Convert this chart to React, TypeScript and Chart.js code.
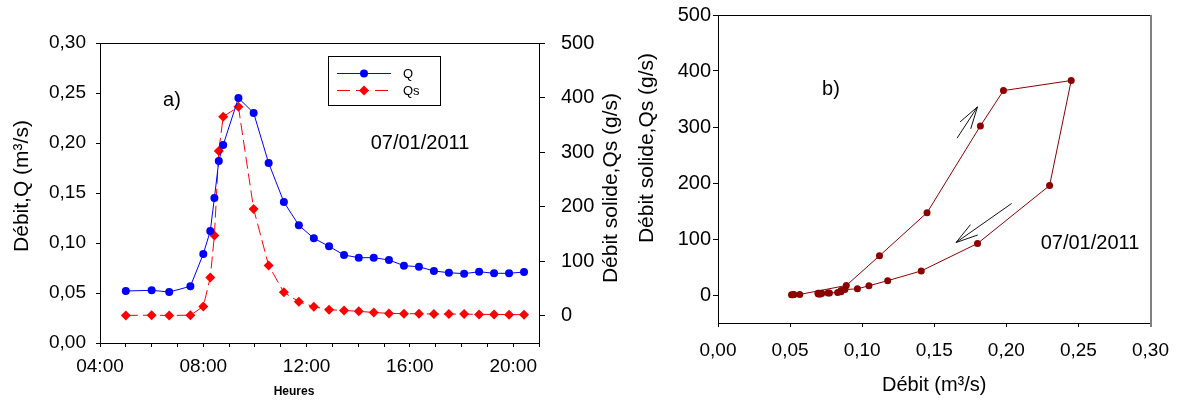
import React, { useEffect, useRef } from 'react';
import { Chart, registerables } from 'chart.js';

Chart.register(...registerables);

const FONT = '"Liberation Sans", Arial, Helvetica, sans-serif';

// Sampling times (decimal hours) on 07/01/2011
const hours = [5.0, 6.0, 6.68, 7.5, 8.0, 8.27, 8.43, 8.6, 8.77, 9.36, 9.95, 10.53, 11.12, 11.7, 12.28, 12.87, 13.45, 14.02, 14.6, 15.19, 15.77, 16.35, 16.93, 17.51, 18.1, 18.68, 19.26, 19.84, 20.42];
// Liquid discharge Q (m3/s)
const debitQ = [0.052, 0.0527, 0.051, 0.0567, 0.089, 0.112, 0.145, 0.182, 0.198, 0.245, 0.23, 0.18, 0.141, 0.1177, 0.1047, 0.0967, 0.088, 0.0853, 0.0853, 0.083, 0.0773, 0.0763, 0.072, 0.0703, 0.0693, 0.0713, 0.0697, 0.0697, 0.071];
// Solid discharge Qs (g/s)
const debitQs = [0.5, 1, 0.5, 1, 17, 70, 147, 302, 365, 383, 195.5, 92, 43, 25.6, 16.5, 11, 9.7, 8, 6, 4.3, 3.7, 3.7, 3, 3, 3, 2.4, 2.4, 2, 2];

const seriesLabels = ['Q', 'Qs'];
const dateLabel = '07/01/2011';

const fmt2 = (v: number) => Number(v).toFixed(2).replace('.', ',');
const fmtHour = (v: number) => {
  const h = Math.round(Number(v));
  return h % 4 === 0 ? String(h).padStart(2, '0') + ':00' : '';
};

const BLUE = '#0000FF';
const RED = '#FF0000';
const DARKRED = '#8B0000';

function drawText(ctx: CanvasRenderingContext2D, text: string, x: number, y: number, size: number, opts: { bold?: boolean; rotate?: boolean; align?: CanvasTextAlign } = {}) {
  ctx.save();
  ctx.fillStyle = '#000';
  ctx.font = `${opts.bold ? 'bold ' : ''}${size}px ${FONT}`;
  ctx.textAlign = opts.align || 'center';
  ctx.textBaseline = 'middle';
  ctx.translate(x, y);
  if (opts.rotate) ctx.rotate(-Math.PI / 2);
  ctx.fillText(text, 0, 0);
  ctx.restore();
}

function drawArrow(ctx: CanvasRenderingContext2D, x0: number, y0: number, x1: number, y1: number) {
  const len = 23;
  const ang = (16 * Math.PI) / 180;
  const a = Math.atan2(y0 - y1, x0 - x1);
  ctx.save();
  ctx.strokeStyle = '#111';
  ctx.lineWidth = 1;
  ctx.beginPath();
  ctx.moveTo(x0, y0);
  ctx.lineTo(x1, y1);
  for (const s of [-1, 1]) {
    ctx.moveTo(x1, y1);
    ctx.lineTo(x1 + len * Math.cos(a + s * ang), y1 + len * Math.sin(a + s * ang));
  }
  ctx.stroke();
  ctx.restore();
}

const panelAPlugin = {
  id: 'panelA',
  afterDraw(chart: any) {
    const { ctx, chartArea: ca } = chart;
    ctx.save();
    // top frame line
    ctx.strokeStyle = '#000';
    ctx.lineWidth = 1;
    ctx.beginPath();
    ctx.moveTo(ca.left, Math.round(ca.top) + 0.5);
    ctx.lineTo(ca.right, Math.round(ca.top) + 0.5);
    ctx.stroke();

    // legend box
    ctx.strokeRect(328.5, 56.5, 112, 49);
    // Q row
    ctx.strokeStyle = BLUE;
    ctx.beginPath();
    ctx.moveTo(337, 73.5);
    ctx.lineTo(391, 73.5);
    ctx.stroke();
    ctx.fillStyle = BLUE;
    ctx.beginPath();
    ctx.arc(364, 73.5, 4, 0, Math.PI * 2);
    ctx.fill();
    // Qs row
    ctx.strokeStyle = RED;
    ctx.setLineDash([13, 6]);
    ctx.beginPath();
    ctx.moveTo(337, 90.5);
    ctx.lineTo(390, 90.5);
    ctx.stroke();
    ctx.setLineDash([]);
    ctx.fillStyle = RED;
    ctx.beginPath();
    ctx.moveTo(364 - 5, 90.5);
    ctx.lineTo(364, 85.5);
    ctx.lineTo(364 + 5, 90.5);
    ctx.lineTo(364, 95.5);
    ctx.closePath();
    ctx.fill();
    ctx.restore();

    drawText(ctx, seriesLabels[0], 403, 74, 13, { align: 'left' });
    drawText(ctx, seriesLabels[1], 403, 91, 13, { align: 'left' });

    drawText(ctx, 'a)', 172, 100, 20);
    drawText(ctx, dateLabel, 420, 143, 20);
    drawText(ctx, 'Heures', 294, 392, 12, { bold: true });
    drawText(ctx, 'Débit,Q (m³/s)', 22, 186, 21, { rotate: true });
    drawText(ctx, 'Débit solide,Qs (g/s)', 611, 188, 21, { rotate: true });
  },
};

const panelBPlugin = {
  id: 'panelB',
  afterDraw(chart: any) {
    const { ctx, chartArea: ca, scales } = chart;
    ctx.save();
    ctx.strokeStyle = '#000';
    ctx.lineWidth = 1;
    ctx.beginPath();
    ctx.moveTo(ca.left, Math.round(ca.top) + 0.5);
    ctx.lineTo(ca.right, Math.round(ca.top) + 0.5);
    ctx.stroke();
    ctx.strokeStyle = '#808080';
    ctx.lineWidth = 2;
    ctx.beginPath();
    ctx.moveTo(Math.round(ca.right), ca.top);
    ctx.lineTo(Math.round(ca.right), ca.bottom + 4);
    ctx.stroke();
    ctx.restore();

    const x = scales.x;
    const y = scales.y;
    // rising-limb arrow and falling-limb arrow (data coordinates)
    drawArrow(ctx, x.getPixelForValue(0.1658), y.getPixelForValue(280), x.getPixelForValue(0.18), y.getPixelForValue(336));
    drawArrow(ctx, x.getPixelForValue(0.2037), y.getPixelForValue(163.5), x.getPixelForValue(0.1651), y.getPixelForValue(93.7));

    drawText(ctx, 'b)', 206, 89, 20);
    drawText(ctx, dateLabel, 465, 243, 20);
    drawText(ctx, 'Débit solide,Qs (g/s)', 22, 148, 21, { rotate: true });
  },
};

const tickFont = { family: FONT, size: 19 };
const intTickFont = { family: FONT, size: 20 };

export default function App() {
  const refA = useRef<HTMLCanvasElement | null>(null);
  const refB = useRef<HTMLCanvasElement | null>(null);

  useEffect(() => {
    const chartA = new Chart(refA.current as HTMLCanvasElement, {
      type: 'line',
      data: {
        datasets: [
          {
            label: seriesLabels[0],
            data: hours.map((h, i) => ({ x: h, y: debitQ[i] })),
            yAxisID: 'y',
            borderColor: BLUE,
            backgroundColor: BLUE,
            borderWidth: 1,
            pointRadius: 4,
            pointHoverRadius: 4,
            pointBorderWidth: 0,
            pointBackgroundColor: BLUE,
            tension: 0,
          },
          {
            label: seriesLabels[1],
            data: hours.map((h, i) => ({ x: h, y: debitQs[i] })),
            yAxisID: 'y1',
            borderColor: RED,
            backgroundColor: RED,
            borderDash: [12, 5],
            borderWidth: 1,
            pointStyle: 'rectRot',
            pointRadius: 5,
            pointHoverRadius: 5,
            pointBorderWidth: 0,
            pointBackgroundColor: RED,
            tension: 0,
          },
        ],
      } as any,
      options: {
        responsive: false,
        animation: false,
        events: [],
        layout: { padding: { top: 43, left: 0, right: 0, bottom: 0 } },
        plugins: { legend: { display: false }, tooltip: { enabled: false } },
        scales: {
          x: {
            type: 'linear',
            min: 4,
            max: 21,
            afterFit: (s: any) => { s.height = 57; },
            ticks: { stepSize: 1, autoSkip: false, maxRotation: 0, callback: (v: any) => fmtHour(v), color: '#000', font: tickFont, padding: 8 },
            grid: { drawOnChartArea: false, tickLength: 4, tickColor: '#000' },
            border: { color: '#000' },
          },
          y: {
            position: 'left',
            min: 0,
            max: 0.3,
            afterFit: (s: any) => { s.width = 100; },
            ticks: { stepSize: 0.05, callback: (v: any) => fmt2(v), color: '#000', font: tickFont, padding: 10 },
            grid: { drawOnChartArea: false, tickLength: 4, tickColor: '#000' },
            border: { color: '#000' },
          },
          y1: {
            position: 'right',
            min: -50,
            max: 500,
            afterBuildTicks: (s: any) => { s.ticks = s.ticks.filter((t: any) => t.value >= 0); },
            afterFit: (s: any) => { s.width = 86; },
            ticks: { stepSize: 100, color: '#000', font: intTickFont, padding: 16 },
            grid: { drawOnChartArea: false, tickLength: 6, tickColor: '#000' },
            border: { color: '#000' },
          },
        },
      } as any,
      plugins: [panelAPlugin],
    });

    const chartB = new Chart(refB.current as HTMLCanvasElement, {
      type: 'scatter',
      data: {
        datasets: [
          {
            label: 'Qs = f(Q)',
            data: debitQ.map((q, i) => ({ x: q, y: debitQs[i] })),
            showLine: true,
            borderColor: DARKRED,
            backgroundColor: DARKRED,
            pointBackgroundColor: DARKRED,
            borderWidth: 1,
            pointRadius: 3.5,
            pointHoverRadius: 3.5,
            pointBorderWidth: 0,
            tension: 0,
          },
        ],
      } as any,
      options: {
        responsive: false,
        animation: false,
        events: [],
        layout: { padding: { top: 15, right: 26, left: 0, bottom: 0 } },
        plugins: { legend: { display: false }, tooltip: { enabled: false } },
        scales: {
          x: {
            type: 'linear',
            min: 0,
            max: 0.3,
            afterFit: (s: any) => { s.height = 77; },
            ticks: { stepSize: 0.05, callback: (v: any) => fmt2(v), color: '#000', font: tickFont, padding: 12, maxRotation: 0, autoSkip: false },
            grid: { drawOnChartArea: false, tickLength: 4, tickColor: '#000' },
            border: { color: '#000' },
            title: { display: true, text: 'Débit (m³/s)', color: '#000', font: { family: FONT, size: 20 }, padding: { top: 0, bottom: 3 } },
          },
          y: {
            type: 'linear',
            min: -50,
            max: 500,
            afterBuildTicks: (s: any) => { s.ticks = s.ticks.filter((t: any) => t.value >= 0); },
            afterFit: (s: any) => { s.width = 93; },
            ticks: { stepSize: 100, color: '#000', font: intTickFont, padding: 2 },
            grid: { drawOnChartArea: false, tickLength: 5, tickColor: '#000' },
            border: { color: '#000' },
          },
        },
      } as any,
      plugins: [panelBPlugin],
    });

    return () => {
      chartA.destroy();
      chartB.destroy();
    };
  }, []);

  return (
    <div style={{ position: 'fixed', left: 0, top: 0, width: 1181, height: 400, background: '#fff', overflow: 'hidden' }}>
      <canvas ref={refA} width={625} height={400} style={{ position: 'absolute', left: 0, top: 0, width: 625, height: 400 }} />
      <canvas ref={refB} width={556} height={400} style={{ position: 'absolute', left: 625, top: 0, width: 556, height: 400 }} />
    </div>
  );
}
